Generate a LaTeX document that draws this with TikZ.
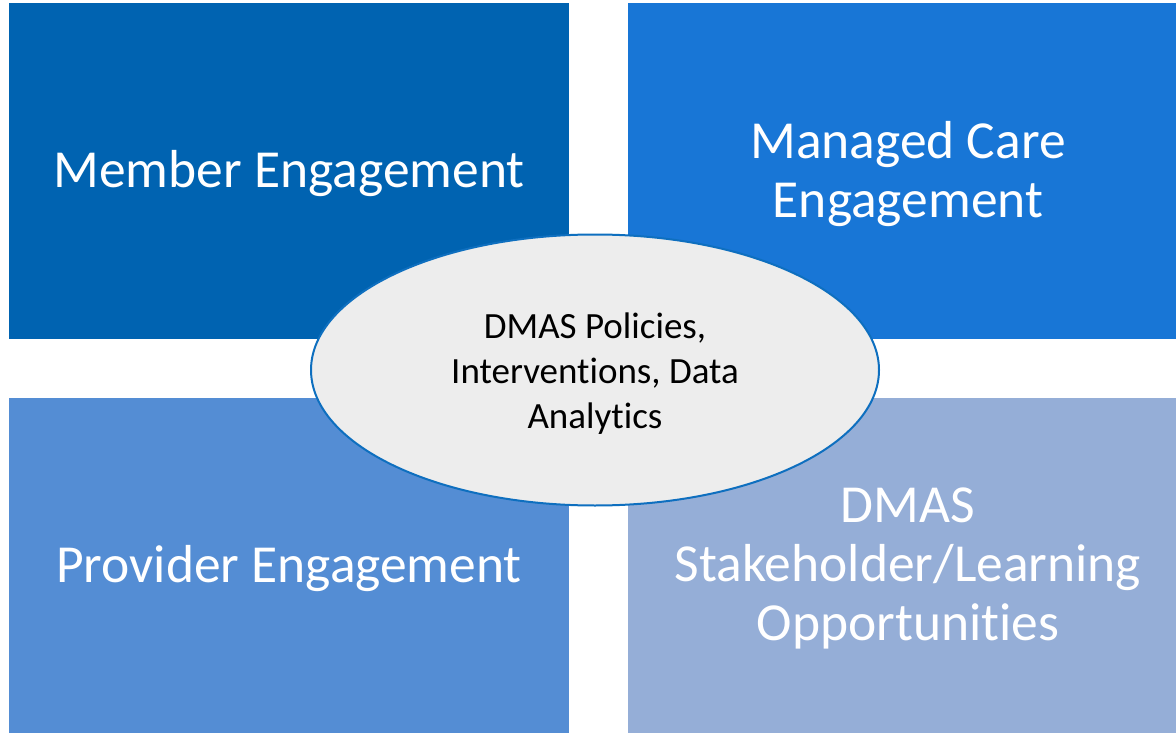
\documentclass[tikz,border=0pt]{standalone}
\usepackage{fontspec}
\setmainfont[Ligatures={NoCommon}]{Carlito}
\usetikzlibrary{shapes,positioning}
\definecolor{memberblue}{RGB}{0,99,177}
\definecolor{managedblue}{RGB}{24,118,214}
\definecolor{providerblue}{RGB}{84,141,212}
\definecolor{stakeblue}{RGB}{149,174,215}
\definecolor{hubgray}{RGB}{237,237,237}
\definecolor{hubline}{RGB}{14,111,191}

\begin{document}
\begin{tikzpicture}[x=1pt,y=-1pt,
  quad/.style={rectangle,inner sep=0pt,outer sep=0pt,minimum width=560pt,minimum height=335pt},
  quadtext/.style={text=white,align=center,yshift=-3pt,font=\fontsize{53.5}{59}\selectfont},
  hub/.style={ellipse,inner sep=0pt,minimum width=568pt,minimum height=271pt,fill=hubgray,
    draw=hubline,line width=2pt},
  hubtext/.style={align=center,yshift=-4pt,font=\fontsize{37}{45}\selectfont}]
\useasboundingbox[fill=white] (0,0) rectangle (1176,733);
% four quadrants
\node[quad,fill=memberblue,label={[quadtext]center:Member Engagement}] (member) at (289,171) {};
\node[quad,fill=managedblue,label={[quadtext]center:Managed Care\\Engagement}] (managed) at (908,171) {};
\node[quad,fill=providerblue,label={[quadtext]center:Provider Engagement}] (provider) at (289,565.5) {};
\node[quad,fill=stakeblue,label={[quadtext]center:DMAS\\Stakeholder/Learning\\Opportunities}] (stakeholder) at (908,565.5) {};
% centre
\node[hub,label={[hubtext]center:DMAS Policies,\\Interventions, Data\\Analytics}] (dmas) at (595,370) {};
\end{tikzpicture}
\end{document}
